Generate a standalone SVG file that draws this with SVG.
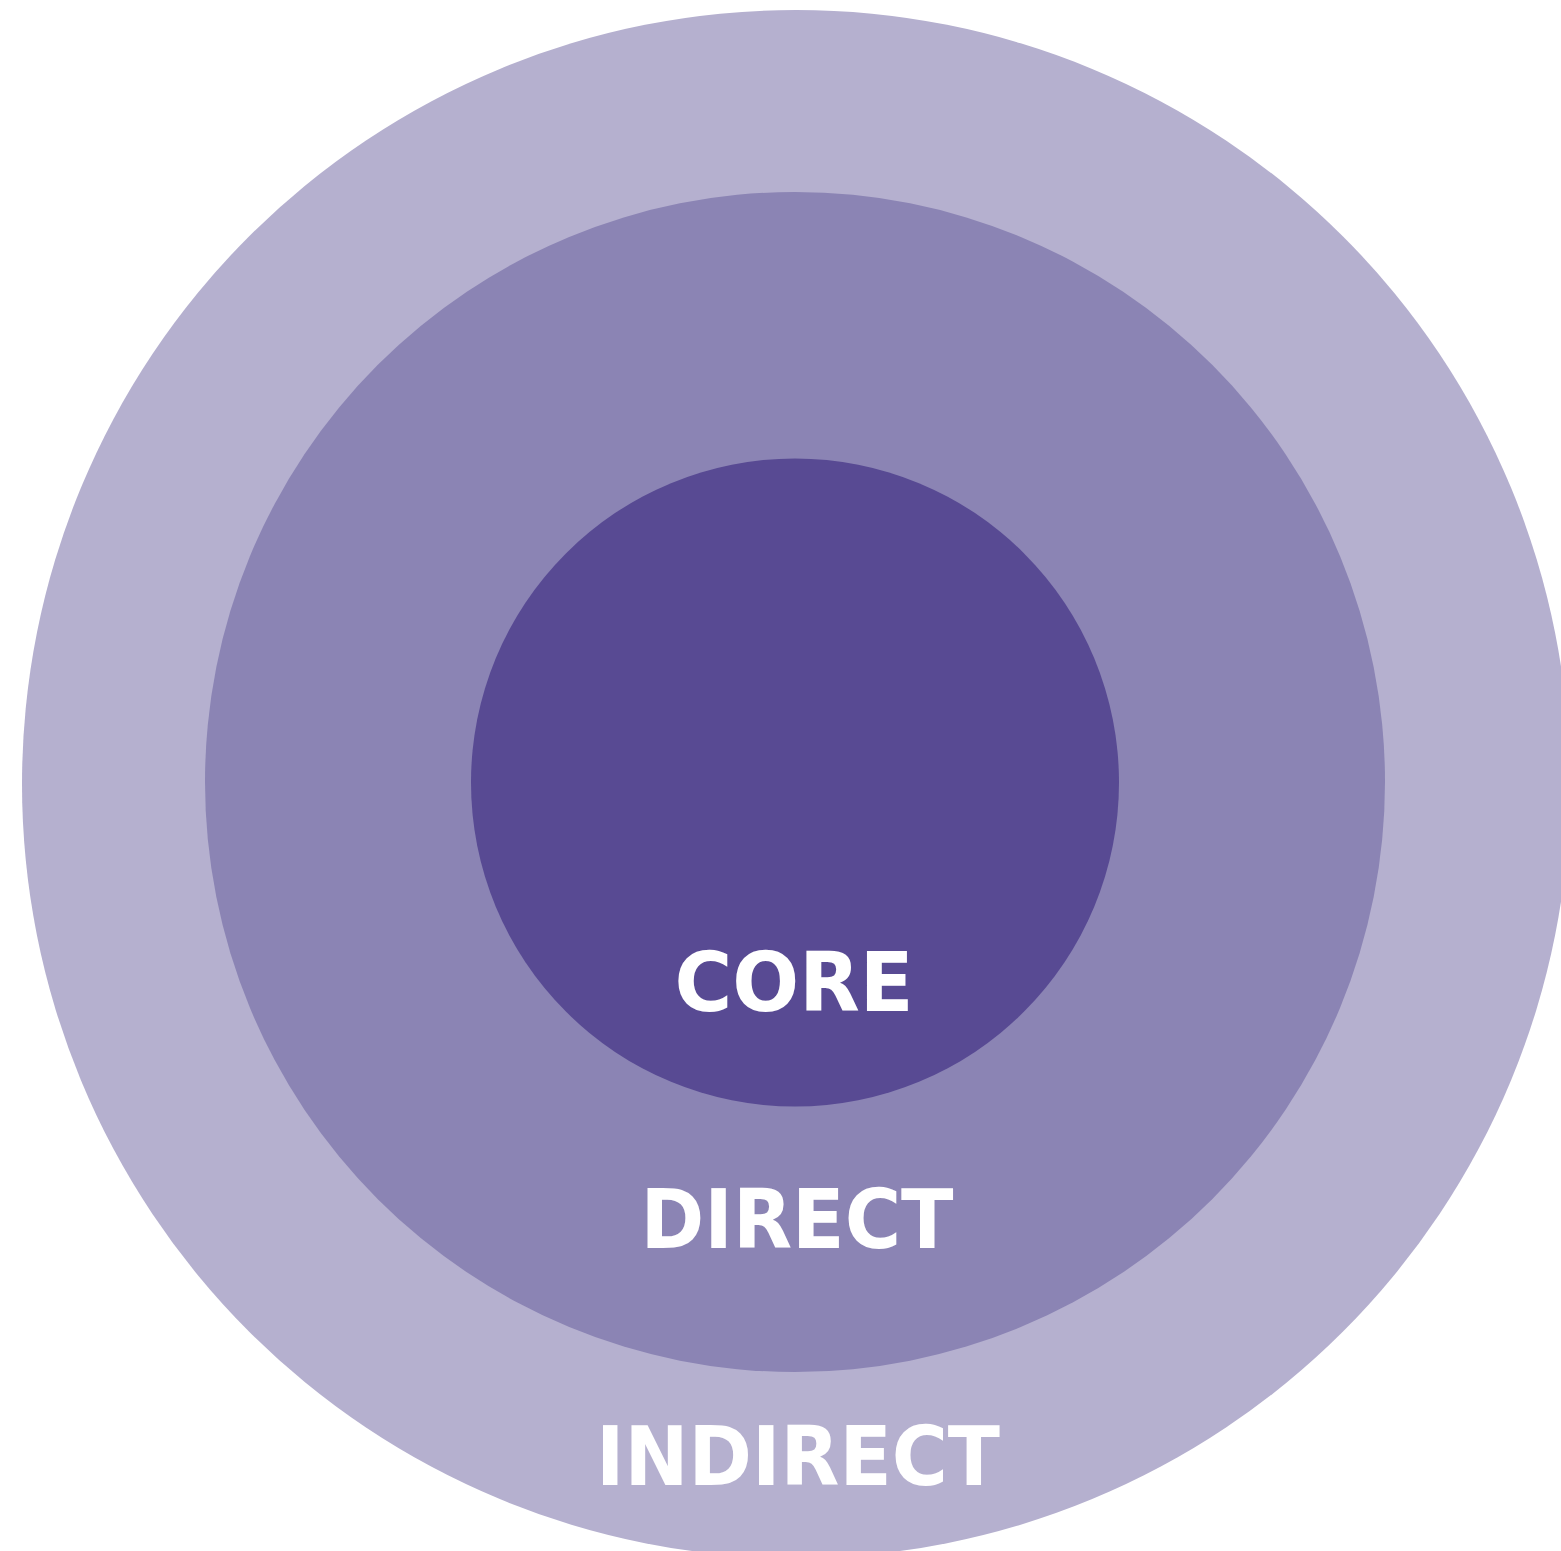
<svg xmlns="http://www.w3.org/2000/svg" width="1561" height="1551" viewBox="0 0 1561 1551">
<style>
.lbl{font-family:"DejaVu Sans","Liberation Sans",sans-serif;font-weight:bold;font-size:82px;fill:#ffffff;text-anchor:middle}
</style>
<rect width="1561" height="1551" fill="#ffffff"/>
<g id="indirect">
<circle cx="796" cy="784" r="774" fill="#B5B0CF"/>
<text class="lbl" x="798" y="1485" textLength="404" lengthAdjust="spacingAndGlyphs">INDIRECT</text>
</g>
<g id="direct">
<circle cx="795" cy="782" r="590" fill="#8B84B4"/>
<text class="lbl" x="797" y="1248" textLength="313" lengthAdjust="spacingAndGlyphs">DIRECT</text>
</g>
<g id="core">
<circle cx="795" cy="782.5" r="324" fill="#584A93"/>
<text class="lbl" x="794" y="1011" textLength="239" lengthAdjust="spacingAndGlyphs">CORE</text>
</g>
<g id="connectors"></g>
</svg>
